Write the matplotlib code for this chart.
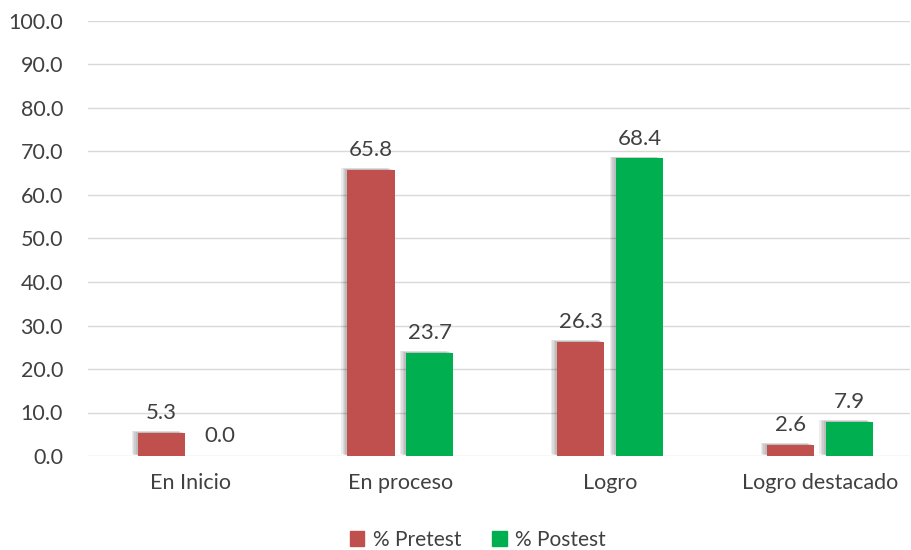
import numpy as np
import matplotlib.pyplot as plt
import matplotlib.patheffects as pe
from matplotlib.patches import Patch

plt.rcParams['font.family'] = ['Lato', 'DejaVu Sans']

categorias = ['En Inicio', 'En proceso', 'Logro', 'Logro destacado']
pretest = [5.3, 65.8, 26.3, 2.6]
postest = [0.0, 23.7, 68.4, 7.9]
yticks = np.arange(0, 101, 10)

rojo = '#C0504D'
verde = '#00B050'
texto = '#404040'

fig = plt.figure(figsize=(9.12, 5.5), dpi=100)
ax = fig.add_axes([88 / 912, 1 - 456 / 550, 822 / 912, 435 / 550])

x = np.arange(len(categorias))
ancho = 0.225
# sombra difusa a la izquierda de cada barra
sombra = [pe.SimplePatchShadow(offset=(-d, 0.3 * d), shadow_rgbFace='black', alpha=0.07)
          for d in (4.5, 3.5, 2.5, 1.5)] + [pe.Normal()]

b1 = ax.bar(x - 0.14, pretest, ancho, color=rojo, zorder=3)
b2 = ax.bar(x + 0.14, postest, ancho, color=verde, zorder=3)
for b in list(b1) + list(b2):
    b.set_path_effects(sombra)

for barras, vals in ((b1, pretest), (b2, postest)):
    for b, v in zip(barras, vals):
        ax.annotate(f'{v:.1f}', (b.get_x() + b.get_width() / 2, v),
                    xytext=(0, 7), textcoords='offset points',
                    ha='center', va='bottom', fontsize=16, color=texto)

ax.set_ylim(0, 100)
ax.set_xlim(-0.49, 3.43)
ax.set_yticks(yticks)
ax.set_yticklabels([f'{v:.1f}' for v in yticks])
ax.set_xticks(x)
ax.set_xticklabels(categorias)
ax.tick_params(axis='both', length=0, labelsize=15.5, labelcolor=texto)
ax.tick_params(axis='y', pad=18)
ax.tick_params(axis='x', pad=12)
ax.grid(axis='y', color='#D9D9D9', linewidth=1, zorder=0)
for s in ax.spines.values():
    s.set_visible(False)

handles = [Patch(color=rojo, label='% Pretest'), Patch(color=verde, label='% Postest')]
fig.legend(handles=handles, loc='center', bbox_to_anchor=(478 / 912, 1 - 540 / 550),
           ncol=2, frameon=False, fontsize=15, handlelength=0.7, handleheight=0.7,
           handletextpad=0.4, columnspacing=1.5, labelcolor=texto)

fig.savefig('out.png', dpi=100, facecolor='white')
